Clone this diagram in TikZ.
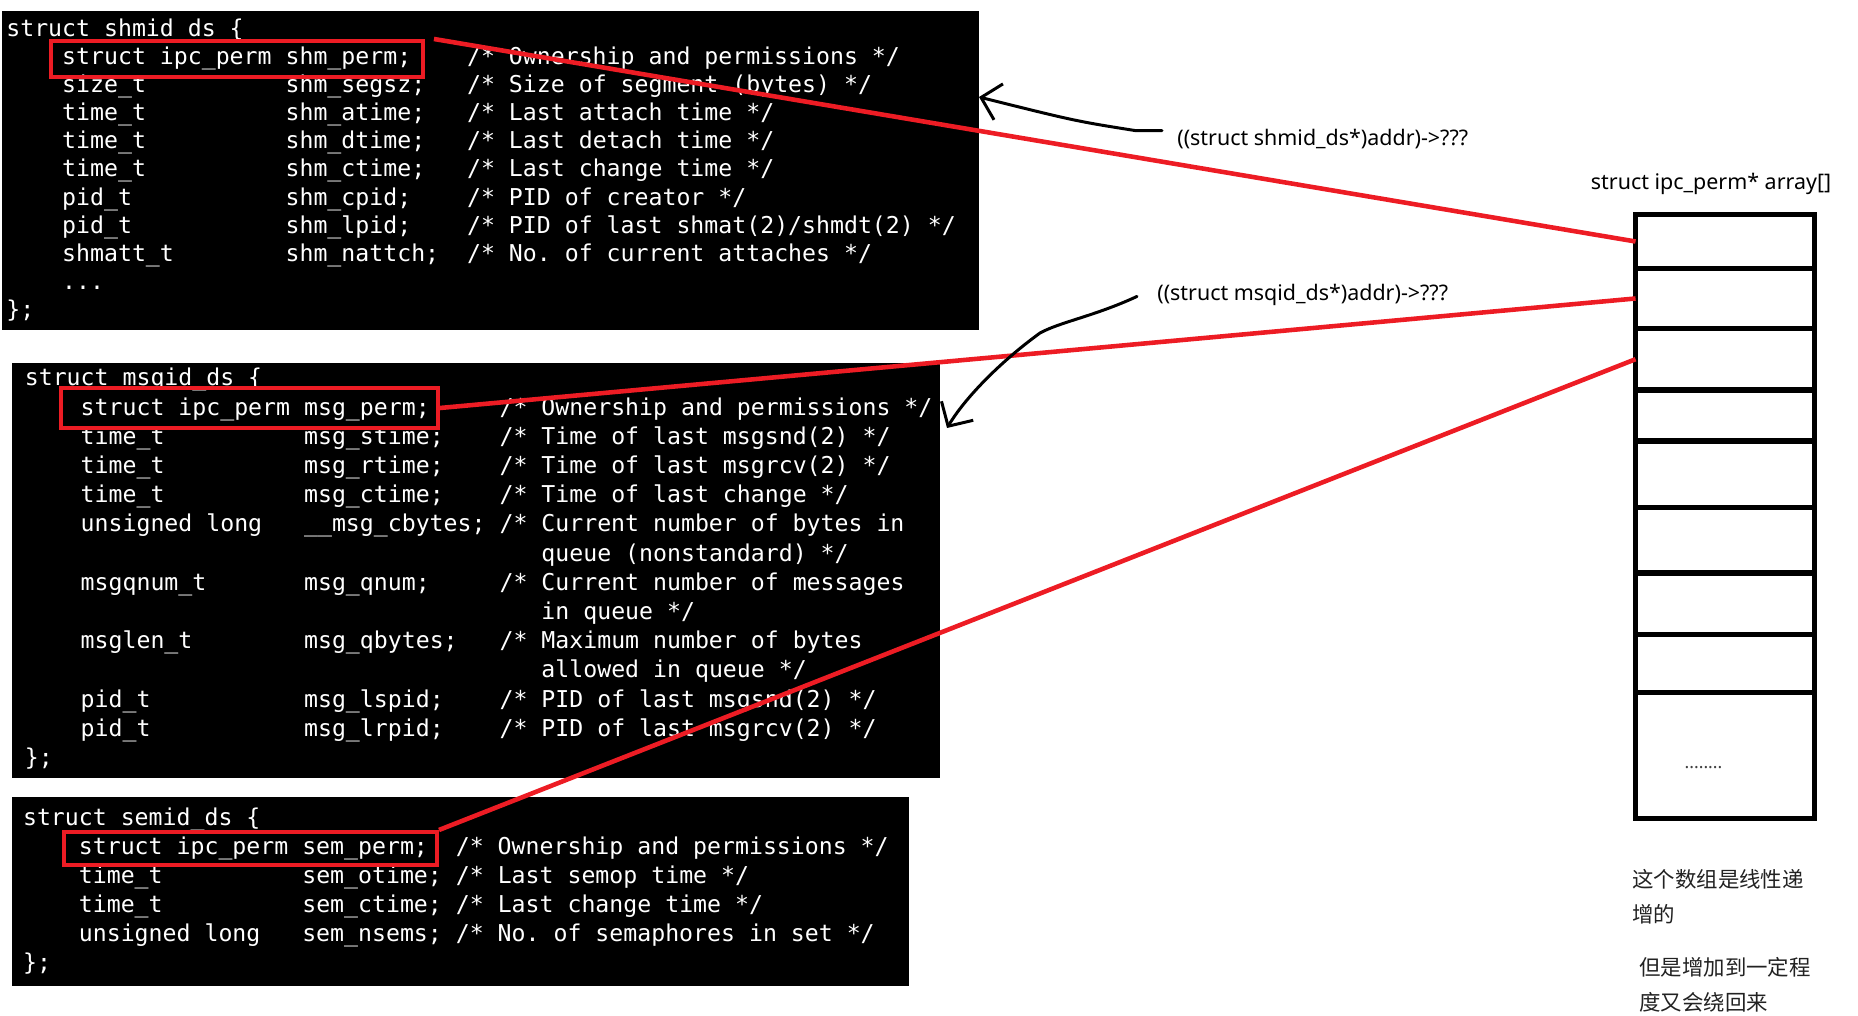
\documentclass[tikz,border=0pt]{standalone}
\usepackage{fontspec}
\usepackage{tikz}
\usetikzlibrary{arrows.meta, positioning}
\setmonofont{DejaVu Sans Mono}
\newfontfamily\labelfont{Noto Sans}
\newfontfamily\cjkfont{Noto Sans CJK SC}
\definecolor{permred}{HTML}{ED1C24}
\definecolor{notegray}{HTML}{222222}
\newcommand{\codefont}{\ttfamily\fontsize{13.2pt}{16pt}\selectfont}
\newlength{\chw}
\AtBeginDocument{\settowidth{\chw}{\codefont x}}
\newcommand{\fld}[2]{\makebox[#1\chw][l]{#2}}
\newcommand{\indt}{\hspace*{4\chw}}

\begin{document}
\begin{tikzpicture}[
  x=0.02cm, y=-0.02cm,
  panel/.style={rectangle, fill=black, anchor=north west, inner sep=0pt, outer sep=0pt},
  codeline/.style={font=\codefont, text=white, anchor=base west, inner sep=0pt},
  permbox/.style={rectangle, draw=permred, line width=2.3pt, inner sep=0pt},
  cell/.style={rectangle, draw=black, line width=3.1pt, minimum width=3.58cm,
               inner sep=0pt, outer sep=0pt},
  lbl/.style={font=\labelfont\fontsize{12.2pt}{14pt}\selectfont, inner sep=0pt},
  notetext/.style={font=\cjkfont\fontsize{12.2pt}{19.9pt}\selectfont, text=notegray,
                   align=left, anchor=north west, inner sep=0pt},
  link/.style={permred, line width=2.6pt},
  pen/.style={line width=1.7pt, line cap=round, line join=round,
              -{Straight Barb[length=0.36cm, width=0.74cm]}},
]
\useasboundingbox (0,0) rectangle (1858,1016);

% the three kernel structs
\node[panel, minimum width=19.54cm, minimum height=6.38cm] (shmpanel) at (2,11) {};
\node[panel, minimum width=18.56cm, minimum height=8.30cm] (msgpanel) at (12,363) {};
\node[panel, minimum width=17.94cm, minimum height=3.78cm] (sempanel) at (12,797) {};

\begin{scope}[shift={(6,36.5)}, y=-0.562cm]
\node[codeline] (shm0) at (0,0) {struct shmid\_ds \{};
\node[codeline] (shm1) at (0,1) {\indt\fld{29}{struct ipc\_perm shm\_perm;}/* Ownership and permissions */};
\node[codeline] (shm2) at (0,2) {\indt\fld{16}{size\_t}\fld{13}{shm\_segsz;}/* Size of segment (bytes) */};
\node[codeline] (shm3) at (0,3) {\indt\fld{16}{time\_t}\fld{13}{shm\_atime;}/* Last attach time */};
\node[codeline] (shm4) at (0,4) {\indt\fld{16}{time\_t}\fld{13}{shm\_dtime;}/* Last detach time */};
\node[codeline] (shm5) at (0,5) {\indt\fld{16}{time\_t}\fld{13}{shm\_ctime;}/* Last change time */};
\node[codeline] (shm6) at (0,6) {\indt\fld{16}{pid\_t}\fld{13}{shm\_cpid;}/* PID of creator */};
\node[codeline] (shm7) at (0,7) {\indt\fld{16}{pid\_t}\fld{13}{shm\_lpid;}/* PID of last shmat(2)/shmdt(2) */};
\node[codeline] (shm8) at (0,8) {\indt\fld{16}{shmatt\_t}\fld{13}{shm\_nattch;}/* No. of current attaches */};
\node[codeline] (shm9) at (0,9) {\indt...};
\node[codeline] (shm10) at (0,10) {\};};
\end{scope}

\begin{scope}[shift={(24.5,386)}, y=-0.584cm]
\node[codeline] (msg0) at (0,0) {struct msqid\_ds \{};
\node[codeline] (msg1) at (0,1) {\indt\fld{30}{struct ipc\_perm msg\_perm;}/* Ownership and permissions */};
\node[codeline] (msg2) at (0,2) {\indt\fld{16}{time\_t}\fld{14}{msg\_stime;}/* Time of last msgsnd(2) */};
\node[codeline] (msg3) at (0,3) {\indt\fld{16}{time\_t}\fld{14}{msg\_rtime;}/* Time of last msgrcv(2) */};
\node[codeline] (msg4) at (0,4) {\indt\fld{16}{time\_t}\fld{14}{msg\_ctime;}/* Time of last change */};
\node[codeline] (msg5) at (0,5) {\indt\fld{16}{unsigned long}\fld{14}{\_\_msg\_cbytes;}/* Current number of bytes in};
\node[codeline] (msg6) at (0,6) {\indt\hspace*{33\chw}queue (nonstandard) */};
\node[codeline] (msg7) at (0,7) {\indt\fld{16}{msgqnum\_t}\fld{14}{msg\_qnum;}/* Current number of messages};
\node[codeline] (msg8) at (0,8) {\indt\hspace*{33\chw}in queue */};
\node[codeline] (msg9) at (0,9) {\indt\fld{16}{msglen\_t}\fld{14}{msg\_qbytes;}/* Maximum number of bytes};
\node[codeline] (msg10) at (0,10) {\indt\hspace*{33\chw}allowed in queue */};
\node[codeline] (msg11) at (0,11) {\indt\fld{16}{pid\_t}\fld{14}{msg\_lspid;}/* PID of last msgsnd(2) */};
\node[codeline] (msg12) at (0,12) {\indt\fld{16}{pid\_t}\fld{14}{msg\_lrpid;}/* PID of last msgrcv(2) */};
\node[codeline] (msg13) at (0,13) {\};};
\end{scope}

\begin{scope}[shift={(22.7,825.7)}, y=-0.58cm]
\node[codeline] (sem0) at (0,0) {struct semid\_ds \{};
\node[codeline] (sem1) at (0,1) {\indt\fld{27}{struct ipc\_perm sem\_perm;}/* Ownership and permissions */};
\node[codeline] (sem2) at (0,2) {\indt\fld{16}{time\_t}\fld{11}{sem\_otime;}/* Last semop time */};
\node[codeline] (sem3) at (0,3) {\indt\fld{16}{time\_t}\fld{11}{sem\_ctime;}/* Last change time */};
\node[codeline] (sem4) at (0,4) {\indt\fld{16}{unsigned long}\fld{11}{sem\_nsems;}/* No. of semaphores in set */};
\node[codeline] (sem5) at (0,5) {\};};
\end{scope}

% red marks round the perm members
\node[permbox, minimum width=7.44cm, minimum height=0.72cm] (shmperm) at (237,59) {};
\node[permbox, minimum width=7.54cm, minimum height=0.80cm] (msgperm) at (249.5,408) {};
\node[permbox, minimum width=7.46cm, minimum height=0.66cm] (semperm) at (250.5,848.5) {};

% the ipc_perm pointer array
\node[cell, minimum height=1.08cm, anchor=north] (cell1) at (1725,214.5) {};
\node[cell, minimum height=1.20cm, below=0pt of cell1] (cell2) {};
\node[cell, minimum height=1.23cm, below=0pt of cell2] (cell3) {};
\node[cell, minimum height=1.02cm, below=0pt of cell3] (cell4) {};
\node[cell, minimum height=1.33cm, below=0pt of cell4] (cell5) {};
\node[cell, minimum height=1.31cm, below=0pt of cell5] (cell6) {};
\node[cell, minimum height=1.23cm, below=0pt of cell6] (cell7) {};
\node[cell, minimum height=1.16cm, below=0pt of cell7] (cell8) {};
\node[cell, minimum height=2.52cm, below=0pt of cell8] (cell9) {};
\node[inner sep=0pt, font=\labelfont\fontsize{10pt}{12pt}\selectfont, text=black!75] (dots) at (1703.5,768) {........};

\node[lbl, above=0.4cm of cell1, xshift=-0.28cm] (arrlabel) {struct ipc\_perm* array[]};
\node[lbl, anchor=base west] (shmlabel) at (1177,146) {((struct shmid\_ds*)addr)->???};
\node[lbl, anchor=base west] (msglabel) at (1157,301) {((struct msqid\_ds*)addr)->???};

\node[notetext] (note1) at (1632,869) {这个数组是线性递\\增的};
\node[notetext] (note2) at (1639,957) {但是增加到一定程\\度又会绕回来};

\draw[link] ([xshift=0.18cm]shmperm.north east) -- (cell1.west);
\draw[link] (msgperm.east) -- (cell2.west);
\draw[link] (semperm.north east) -- (cell3.west);

\coordinate (shmtip) at (979,97);
\coordinate (msgtip) at (947,428);
\draw[pen] (shmlabel.west) ++(-15,-9) -- ++(-27,0) .. controls (1075,121) .. (shmtip);
\draw[pen] (msglabel.west) ++(-20,1) .. controls (1095,316) and (1060,322) .. (1040,333)
  .. controls (1000,362) and (965,398) .. (msgtip);
\end{tikzpicture}
\end{document}
